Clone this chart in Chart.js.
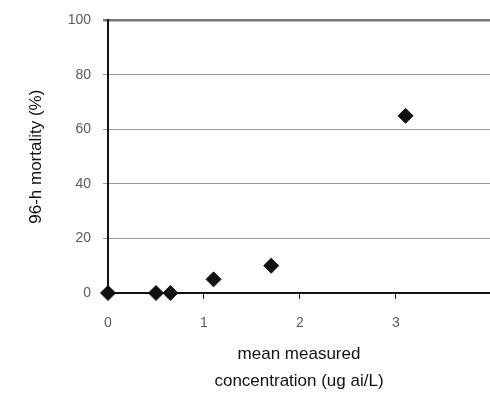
<!DOCTYPE html>
<html>
<head>
<meta charset="utf-8">
<script src="https://cdn.jsdelivr.net/npm/chart.js@4/dist/chart.umd.min.js"></script>
<style>
  html, body { margin: 0; padding: 0; background: #fff; }
  #wrap { width: 490px; height: 399px; }
</style>
</head>
<body>
<div id="wrap"><canvas id="myChart" width="490" height="399"></canvas></div>
<script>
// measured concentration (ug ai/L) and 96-h mortality (%)
var concentration = [0, 0.5, 0.65, 1.1, 1.7, 3.1];
var mortality = [0, 0, 0, 5, 10, 65];
var yTicks = [0, 20, 40, 60, 80, 100];
var xTicks = [0, 1, 2, 3];

var points = [];
for (let i = 0; i < concentration.length; i++) {
    points.push({ x: concentration[i], y: mortality[i] });
}

const data = {
    datasets: [{
        label: 'mortality',
        data: points,
        pointStyle: 'rectRot',
        pointRadius: 7.5,
        pointHoverRadius: 7.5,
        backgroundColor: '#111',
        borderColor: '#111',
        borderWidth: 1,
        clip: false,
    }]
};

const config = {
    type: 'scatter',
    data: data,
    options: {
        responsive: false,
        animation: false,
        layout: { autoPadding: false, padding: { top: 17, right: 0, left: 0, bottom: 0 } },
        plugins: { legend: { display: false }, tooltip: { enabled: false } },
        scales: {
            x: {
                type: 'linear',
                min: 0,
                max: 3.98,
                afterBuildTicks: function (scale) {
                    scale.ticks = xTicks.map(function (v) { return { value: v }; });
                },
                afterFit: function (scale) {
                    scale.height = 106;
                    scale.paddingRight = 0;
                },
                border: { color: '#111', width: 2 },
                grid: { drawOnChartArea: false, drawTicks: true, tickLength: 6, color: '#111' },
                ticks: { color: '#5a5a5a', padding: 16, font: { family: 'Liberation Sans', size: 14 } },
                title: {
                    display: true,
                    text: ['mean measured', 'concentration (ug ai/L)'],
                    color: '#111',
                    font: { family: 'Liberation Sans', size: 17, lineHeight: 1.6 },
                    padding: { top: 6 }
                }
            },
            y: {
                min: 0,
                max: 100,
                afterBuildTicks: function (scale) {
                    scale.ticks = yTicks.map(function (v) { return { value: v }; });
                },
                afterFit: function (scale) { scale.width = 108; },
                border: { color: '#111', width: 2 },
                grid: {
                    tickLength: 5,
                    color: function (ctx) {
                        if (ctx.tick && ctx.tick.value === 100) return '#777';
                        return '#999';
                    },
                    lineWidth: function (ctx) {
                        if (ctx.tick && ctx.tick.value === 100) return 2.5;
                        return 1;
                    }
                },
                ticks: { color: '#5a5a5a', padding: 12, font: { family: 'Liberation Sans', size: 14 } },
                title: {
                    display: true,
                    text: '96-h mortality (%)',
                    color: '#111',
                    font: { family: 'Liberation Sans', size: 17 },
                    padding: { bottom: 0, top: 26 }
                }
            }
        }
    }
};

const myChart = new Chart(document.getElementById('myChart'), config);
</script>
</body>
</html>
